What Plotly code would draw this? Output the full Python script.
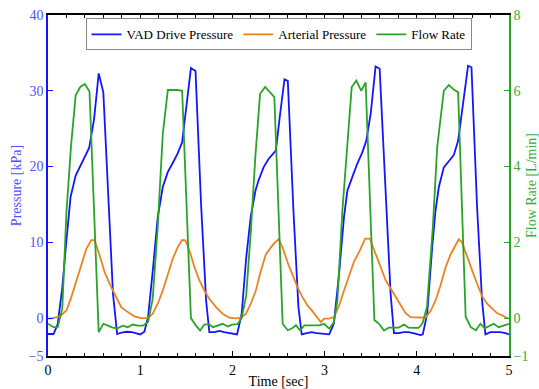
import plotly.graph_objects as go

# ---- data ----
vad_time = [0.0, 0.06, 0.105, 0.155, 0.2, 0.245, 0.3, 0.35, 0.4, 0.447, 0.5, 0.55, 0.6, 0.66, 0.705, 0.75,
            0.8, 0.855, 0.91, 0.96, 1.0, 1.045, 1.085, 1.14, 1.19, 1.245, 1.3, 1.35, 1.405, 1.455, 1.5, 1.55,
            1.6, 1.66, 1.715, 1.75, 1.805, 1.86, 1.91, 1.965, 2.05, 2.1, 2.15, 2.2, 2.25, 2.284, 2.338, 2.392,
            2.446, 2.471, 2.518, 2.565, 2.601, 2.662, 2.716, 2.752, 2.806, 2.86, 2.914, 2.969, 3.05, 3.1, 3.157,
            3.21, 3.247, 3.3, 3.355, 3.41, 3.452, 3.5, 3.553, 3.597, 3.662, 3.716, 3.752, 3.806, 3.86, 3.91, 3.96,
            4.04, 4.065, 4.113, 4.167, 4.203, 4.239, 4.293, 4.347, 4.401, 4.448, 4.499, 4.556, 4.593, 4.654,
            4.708, 4.744, 4.798, 4.852, 4.906, 4.961, 5.0]
vad_pressure = [-2.1, -2.1, -0.8, 4.0, 10.3, 16.0, 18.8, 20.1, 21.2, 22.5, 26.3, 32.3, 29.8, 14.6, 3.2, -2.1,
                -1.9, -1.8, -1.85, -2.0, -2.15, -1.8, 0.1, 6.7, 13.3, 17.3, 19.3, 20.4, 21.7, 23.2, 27.8, 33.0,
                32.6, 15.1, 2.3, -1.85, -1.85, -1.7, -1.85, -2.0, -2.15, 0.5, 8.0, 13.5, 16.8, 18.2, 19.9, 21.0,
                21.7, 22.1, 27.0, 31.5, 31.3, 14.2, 1.45, -2.15, -1.98, -1.85, -1.98, -2.06, -2.15, -0.74, 5.86,
                13.3, 16.8, 18.6, 20.4, 21.9, 23.4, 27.0, 33.2, 32.9, 15.5, 3.2, -1.98, -1.98, -1.85, -1.85, -1.98,
                -2.25, -2.15, 0.58, 9.37, 14.2, 17.3, 19.9, 20.7, 21.5, 23.4, 27.8, 33.3, 33.1, 14.6,
                2.3, -2.15, -1.85, -1.85, -1.85, -1.98, -2.15]

art_time = [0.0, 0.054, 0.127, 0.2, 0.253, 0.307, 0.361, 0.416, 0.47, 0.505, 0.56, 0.614, 0.668, 0.722, 0.794,
            0.866, 0.938, 1.01, 1.082, 1.136, 1.19, 1.245, 1.299, 1.353, 1.407, 1.454, 1.49, 1.534, 1.588, 1.642,
            1.696, 1.75, 1.822, 1.894, 1.966, 2.04, 2.093, 2.147, 2.2, 2.254, 2.308, 2.362, 2.41, 2.455, 2.5,
            2.545, 2.6, 2.652, 2.706, 2.76, 2.814, 2.868, 2.922, 2.959, 2.995, 3.049, 3.103, 3.157, 3.211, 3.265,
            3.32, 3.374, 3.44, 3.49, 3.554, 3.608, 3.662, 3.716, 3.77, 3.824, 3.878, 3.933, 3.987, 4.041, 4.095,
            4.149, 4.203, 4.257, 4.312, 4.366, 4.42, 4.455, 4.491, 4.545, 4.6, 4.654, 4.708, 4.762, 4.816, 4.87,
            4.924, 4.99, 5.0]
art_pressure = [-0.08, 0.0, 0.22, 1.0, 2.77, 4.97, 7.17, 9.15, 10.3, 10.3, 8.27, 6.07, 4.54, 3.22, 1.45,
                0.79, 0.22, 0.0, 0.0, 0.58, 1.9, 3.65, 5.63, 7.83, 9.37, 10.3, 10.25, 8.93, 6.73, 4.97,
                3.65, 2.56, 1.45, 0.58, 0.05, -0.04, 0.05, 0.58, 1.9, 3.65, 6.2, 8.4, 9.2, 9.9, 10.4,
                9.3, 7.3, 5.6, 4.1, 2.77, 1.67, 0.92, 0.13, -0.53, -0.08, -0.08, 0.13, 1.67, 3.65, 5.6,
                7.5, 8.7, 10.5, 10.5, 8.5, 6.6, 5.0, 3.9, 2.77, 1.67, 0.66, 0.13, 0.13, 0.05, 0.05,
                0.92, 2.33, 4.31, 6.7, 8.4, 9.7, 10.4, 10.0, 8.3, 6.3, 4.54, 2.9, 1.9, 1.24, 0.66,
                0.36, -0.08, -0.08]

flow_time = [0.0, 0.06, 0.105, 0.155, 0.2, 0.25, 0.3, 0.35, 0.4, 0.45, 0.55, 0.6, 0.65, 0.7, 0.755, 0.81,
             0.865, 0.92, 0.975, 1.03, 1.085, 1.135, 1.19, 1.245, 1.3, 1.35, 1.405, 1.455, 1.55, 1.605, 1.65,
             1.695, 1.745, 1.79, 1.84, 1.895, 1.95, 2.0, 2.055, 2.1, 2.15, 2.2, 2.25, 2.3, 2.355, 2.41, 2.455,
             2.545, 2.6, 2.652, 2.69, 2.735, 2.78, 2.835, 2.89, 2.94, 2.995, 3.05, 3.1, 3.139, 3.193, 3.247,
             3.294, 3.344, 3.398, 3.445, 3.54, 3.59, 3.644, 3.698, 3.752, 3.806, 3.86, 3.91, 3.965, 4.02, 4.063,
             4.11, 4.174, 4.221, 4.293, 4.347, 4.401, 4.448, 4.53, 4.585, 4.64, 4.69, 4.737, 4.785, 4.834, 4.888,
             4.942, 4.99, 5.0]
flow_rate = [-0.15, -0.24, -0.24, 0.25, 2.8, 4.55, 5.88, 6.1, 6.18, 5.98, -0.37, -0.15, -0.2, -0.25, -0.27, -0.2,
             -0.24, -0.17, -0.2, -0.2, -0.1, 0.5, 2.4, 4.86, 6.02, 6.02, 6.02, 6.0, 0.0, -0.2, -0.33,
             -0.17, -0.16, -0.24, -0.2, -0.15, -0.22, -0.17, -0.16, 0.0, 0.6, 2.3, 4.3, 5.92, 6.1, 5.96, 5.83,
             -0.15, -0.32, -0.26, -0.19, -0.32, -0.19, -0.19, -0.19, -0.19, -0.15, -0.28, -0.11, 0.47, 2.84, 4.69,
             6.1, 6.27, 6.0, 6.22, -0.05, -0.15, -0.33, -0.25, -0.25, -0.25, -0.17, -0.25, -0.26, -0.26, -0.13,
             0.29, 2.4, 4.51, 6.0, 6.15, 6.03, 5.96, 0.03, -0.24, -0.32, -0.15, -0.27, -0.2, -0.15, -0.24,
             -0.2, -0.15, -0.15]

x_ticks = [0, 1, 2, 3, 4, 5]
p_ticks = [-5, 0, 10, 20, 30, 40]
f_ticks = [-1, 0, 2, 4, 6, 8]

BLUE = "rgb(20,20,255)"
ORANGE = "rgb(235,130,35)"
GREEN = "rgb(40,165,40)"
FONT = "Liberation Serif"

fig = go.Figure()
fig.add_trace(go.Scatter(x=vad_time, y=vad_pressure, mode="lines", name="VAD Drive Pressure",
                         line=dict(color=BLUE, width=1.8)))
fig.add_trace(go.Scatter(x=art_time, y=art_pressure, mode="lines", name="Arterial Pressure",
                         line=dict(color=ORANGE, width=1.8)))
fig.add_trace(go.Scatter(x=flow_time, y=flow_rate, mode="lines", name="Flow Rate",
                         line=dict(color=GREEN, width=1.8), yaxis="y2"))

fig.update_layout(
    width=539, height=389,
    margin=dict(l=48, r=30, t=15, b=33, autoexpand=False),
    paper_bgcolor="white", plot_bgcolor="white",
    font=dict(family=FONT, size=14, color="black"),
    showlegend=True,
    legend=dict(orientation="h", x=0.5, xanchor="center", y=0.99, yanchor="top",
                bgcolor="white", bordercolor="#888888", borderwidth=1,
                font=dict(family=FONT, size=13, color="black"),
                itemwidth=30, tracegroupgap=0),
    xaxis=dict(range=[0, 5], tickvals=x_ticks, ticks="inside", ticklen=5, tickwidth=1.2,
               tickcolor="black", showline=True, linecolor="black", linewidth=1.5, mirror="ticks",
               showgrid=False, zeroline=False, automargin=False,
               minor=dict(dtick=0.2, ticks="inside", ticklen=3, tickcolor="black", showgrid=False),
               tickfont=dict(family=FONT, size=14, color="black"),
               title=dict(text="Time [sec]", font=dict(family=FONT, size=14, color="black"), standoff=2)),
    yaxis=dict(range=[-5, 40], tickvals=p_ticks, ticks="inside", ticklen=5, tickwidth=1.2,
               tickcolor=BLUE, showline=True, linecolor=BLUE, linewidth=1.5,
               showgrid=False, zeroline=False, automargin=False,
               tickfont=dict(family=FONT, size=14, color="rgb(80,80,255)"),
               title=dict(text="Pressure [kPa]", font=dict(family=FONT, size=14, color="rgb(80,80,255)"),
                          standoff=4)),
    yaxis2=dict(range=[-1, 8], tickvals=f_ticks, ticks="inside", ticklen=5, tickwidth=1.2,
                tickcolor=GREEN, showline=True, linecolor=GREEN, linewidth=1.5,
                overlaying="y", side="right", showgrid=False, zeroline=False, automargin=False,
                tickfont=dict(family=FONT, size=14, color="rgb(60,170,60)"),
                title=dict(text="Flow Rate [L/min]", font=dict(family=FONT, size=14, color="rgb(60,170,60)"),
                           standoff=4)),
)

fig.write_html("out.html")
